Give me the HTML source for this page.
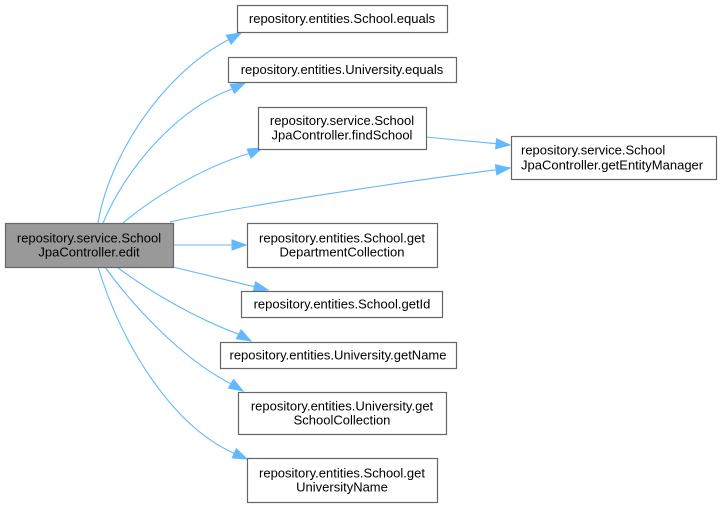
<!DOCTYPE html>
<html>
<head>
<meta charset="utf-8">
<style>
html,body{margin:0;padding:0;background:#fff;}
svg{display:block;}
text{font-family:"Liberation Sans",Arial,sans-serif;font-size:13px;fill:#000;}
</style>
</head>
<body>
<svg width="721" height="507" viewBox="0 0 721 507" xmlns="http://www.w3.org/2000/svg">
<g fill="none" stroke="#63b8ff" stroke-width="1.1">
  <path d="M98,223 C108,160 160,75 228.7,39.6"/>
  <path d="M103,223 C125,170 175,110 232.3,88.9"/>
  <path d="M123,223 C150,200 200,168 249.1,153.5"/>
  <path d="M170,222 C230,208 400,182 496.1,169.8"/>
  <path d="M426,137 L496.1,143.7"/>
  <path d="M173,245 L232,245"/>
  <path d="M173,267 L254.4,286.7"/>
  <path d="M117,267 C150,292 195,318 238.7,334.3"/>
  <path d="M105,267 C130,302 180,358 231,383.8"/>
  <path d="M98,267 C120,340 170,425 234.2,453.3"/>
</g>
<g fill="#63b8ff" stroke="#63b8ff" stroke-width="1">
  <polygon points="241,33 231.1,44 226.3,35.2"/>
  <polygon points="245,83 234.4,93.4 230.2,84.4"/>
  <polygon points="262,148 251,158.1 247.2,148.9"/>
  <polygon points="510,168 496.8,174.8 495.4,164.8"/>
  <polygon points="510,145 495.6,148.7 496.6,138.7"/>
  <polygon points="246,245 232,250 232,240"/>
  <polygon points="268,290 253.2,291.6 255.6,281.8"/>
  <polygon points="251,341 236.3,338.7 241.1,329.9"/>
  <polygon points="243,391 228.4,388.1 233.6,379.5"/>
  <polygon points="247,459 232.2,457.9 236.3,448.7"/>
</g>
<g stroke="#666666" stroke-width="1.2">
  <rect x="5.5" y="223.5" width="168" height="44" fill="#999999"/>
  <rect x="237.5" y="5.5" width="210" height="27" fill="#ffffff"/>
  <rect x="228.5" y="57.5" width="228" height="25" fill="#ffffff"/>
  <rect x="258.5" y="107.5" width="168" height="42" fill="#ffffff"/>
  <rect x="511.5" y="136.5" width="205" height="43" fill="#ffffff"/>
  <rect x="247.5" y="223.5" width="190" height="44" fill="#ffffff"/>
  <rect x="241.5" y="291.5" width="201" height="26" fill="#ffffff"/>
  <rect x="220.5" y="342.5" width="236" height="26" fill="#ffffff"/>
  <rect x="238.5" y="392.5" width="208" height="42" fill="#ffffff"/>
  <rect x="247.5" y="458.5" width="190" height="44" fill="#ffffff"/>
</g>
<g text-anchor="middle">
  <text x="89" y="242.5">repository.service.School</text>
  <text x="89" y="256.5">JpaController.edit</text>
  <text x="342" y="23">repository.entities.School.equals</text>
  <text x="342" y="74">repository.entities.University.equals</text>
  <text x="342" y="125">repository.service.School</text>
  <text x="342" y="139.5">JpaController.findSchool</text>
  <text x="342" y="242.5">repository.entities.School.get</text>
  <text x="342" y="256.5">DepartmentCollection</text>
  <text x="342" y="308.5">repository.entities.School.getId</text>
  <text x="338" y="359.5">repository.entities.University.getName</text>
  <text x="342" y="410.5">repository.entities.University.get</text>
  <text x="342" y="424.5">SchoolCollection</text>
  <text x="342" y="477.5">repository.entities.School.get</text>
  <text x="342" y="491.5">UniversityName</text>
</g>
<text x="521" y="154.5">repository.service.School</text>
<text x="521" y="169.5">JpaController.getEntityManager</text>
</svg>
</body>
</html>
